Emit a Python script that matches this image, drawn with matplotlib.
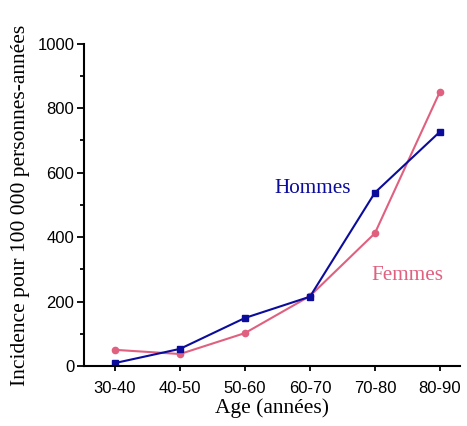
import numpy as np
import matplotlib.pyplot as plt
from matplotlib.ticker import MultipleLocator

# Data.
age_groups = ['30-40', '40-50', '50-60', '60-70', '70-80', '80-90']
hommes = [9, 53, 149, 215, 538, 727]
femmes = [50, 37, 102, 217, 412, 851]

blue = '#0c0c9c'
pink = '#e0607f'

fig = plt.figure(figsize = (4.67, 4.26), dpi = 100)
ax = fig.add_axes([0.18, 0.141, 0.805, 0.756])

x = np.arange(len(age_groups))
ax.plot(x, femmes, color = pink, lw = 1.5, marker = 'o', markersize = 4.5)
ax.plot(x, hommes, color = blue, lw = 1.5, marker = 's', markersize = 4.5)

# Series labels placed next to the curves.
ax.text(2.46, 550, 'Hommes', color = blue, family = 'Liberation Serif',
        fontsize = 15.3, va = 'center', ha = 'left')
ax.text(3.95, 280, 'Femmes', color = pink, family = 'Liberation Serif',
        fontsize = 15.3, va = 'center', ha = 'left')

# Axes styling.
ax.set_xlim(-0.477, 5.31)
ax.set_ylim(0, 1000)
ax.set_xticks(x)
ax.set_xticklabels(age_groups, family = 'Liberation Sans', fontsize = 12)
ax.yaxis.set_major_locator(MultipleLocator(200))
ax.yaxis.set_minor_locator(MultipleLocator(100))
for lab in ax.get_yticklabels():
    lab.set_family('Liberation Sans')
    lab.set_fontsize(12)
ax.tick_params(axis = 'y', which = 'major', direction = 'out', length = 5, width = 1.3, pad = 2)
ax.tick_params(axis = 'y', which = 'minor', direction = 'out', length = 3, width = 1.3)
ax.tick_params(axis = 'x', direction = 'out', length = 3.5, width = 1.3, pad = 7)
for side in ['top', 'right']:
    ax.spines[side].set_visible(False)
for side in ['left', 'bottom']:
    ax.spines[side].set_linewidth(1.5)

ax.set_xlabel('Age (années)', family = 'Liberation Serif', fontsize = 15.5, labelpad = 2)
ax.set_ylabel('Incidence pour 100 000 personnes-années', family = 'Liberation Serif',
              fontsize = 15.5, labelpad = 5)

fig.savefig('out.png', dpi = 100)
